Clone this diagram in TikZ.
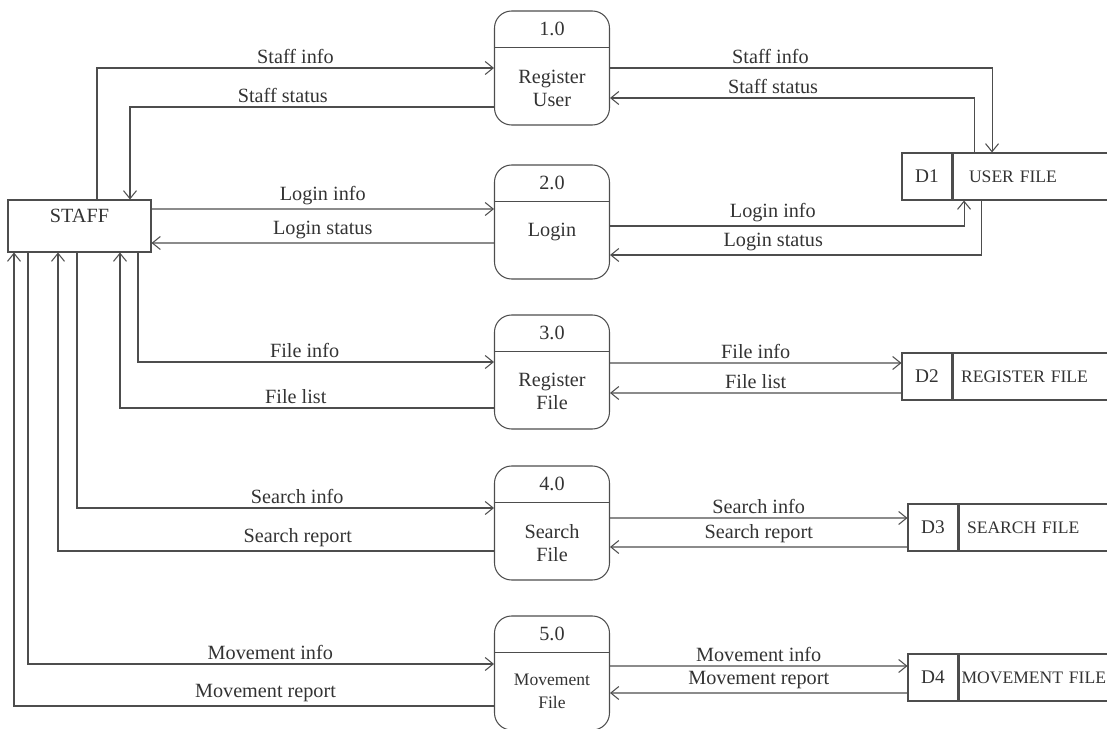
\documentclass[tikz,border=0pt]{standalone}
\usepackage{fontspec}
\setmainfont{Liberation Serif}
\usepackage{tikz}
\usetikzlibrary{arrows.meta,positioning}
\definecolor{dfdline}{HTML}{4D4D4D}
\definecolor{dfdtext}{HTML}{333333}
\tikzset{
  entity/.style={
    draw=dfdline,
    line width=0.6pt,
    minimum width=2.86cm,
    minimum height=1.04cm,
    text height=0.27cm,
    text depth=0.4cm,
    font=\fontsize{11.5}{13}\selectfont,
    text=dfdtext
  },
  process/.style={
    draw=dfdline,
    line width=0.6pt,
    rounded corners=0.34cm,
    minimum width=2.3cm,
    minimum height=2.28cm
  },
  procnum/.style={
    inner sep=1pt,
    font=\fontsize{11.5}{13}\selectfont,
    text=dfdtext
  },
  proctext/.style={
    inner sep=1pt,
    align=center,
    font=\fontsize{11.5}{13}\selectfont,
    text=dfdtext
  },
  divider/.style={
    draw=dfdline,
    line width=0.6pt
  },
  storeid/.style={
    draw=dfdline,
    line width=0.6pt,
    inner sep=0pt,
    minimum width=1cm,
    minimum height=0.94cm,
    font=\fontsize{11}{13}\selectfont,
    text=dfdtext
  },
  storename/.style={
    draw=dfdline,
    line width=0.6pt,
    minimum height=0.94cm,
    text width=3.1cm,
    inner xsep=0.16cm,
    align=left,
    font=\fontsize{10}{12}\selectfont,
    text=dfdtext
  },
  flow/.style={
    -{Straight Barb[length=1.6mm,width=2.6mm]},
    draw=dfdline,
    line width=0.6pt
  },
  flowlabel/.style={
    above,
    inner sep=2pt,
    font=\fontsize{11.5}{13}\selectfont,
    text=dfdtext
  }
}

\begin{document}
\begin{tikzpicture}[x=0.02cm, y=-0.02cm]
\useasboundingbox (0,0) rectangle (1107,729);

% external entity
\node[entity] (staff) at (79.5,226) {STAFF};

% processes
\node[process] (p1) at (552,68) {};
\node[procnum] (p1num) at ([yshift=-0.37cm]p1.north) {1.0};
\draw[divider] ([yshift=-0.74cm]p1.north west) -- ([yshift=-0.74cm]p1.north east);
\node[proctext] (p1txt) at ([yshift=-0.4cm]p1.center) {Register\\User};

\node[process] (p2) at (552,222) {};
\node[procnum] (p2num) at ([yshift=-0.37cm]p2.north) {2.0};
\draw[divider] ([yshift=-0.74cm]p2.north west) -- ([yshift=-0.74cm]p2.north east);
\node[proctext] (p2txt) at ([yshift=-0.2cm]p2.center) {Login};

\node[process] (p3) at (552,372) {};
\node[procnum] (p3num) at ([yshift=-0.37cm]p3.north) {3.0};
\draw[divider] ([yshift=-0.74cm]p3.north west) -- ([yshift=-0.74cm]p3.north east);
\node[proctext] (p3txt) at ([yshift=-0.38cm]p3.center) {Register\\File};

\node[process] (p4) at (552,523) {};
\node[procnum] (p4num) at ([yshift=-0.37cm]p4.north) {4.0};
\draw[divider] ([yshift=-0.74cm]p4.north west) -- ([yshift=-0.74cm]p4.north east);
\node[proctext] (p4txt) at ([yshift=-0.4cm]p4.center) {Search\\File};

\node[process] (p5) at (552,673) {};
\node[procnum] (p5num) at ([yshift=-0.37cm]p5.north) {5.0};
\draw[divider] ([yshift=-0.74cm]p5.north west) -- ([yshift=-0.74cm]p5.north east);
\node[proctext, font=\fontsize{10}{13}\selectfont] (p5txt) at ([yshift=-0.36cm]p5.center) {Movement\\File};

% data stores
\node[storeid] (d1) at (927,176.5) {D1};
\node[storename, right=0pt of d1, inner xsep=0.32cm, text width=2.8cm] (d1n) {USER FILE};
\node[storeid] (d2) at (927,376.5) {D2};
\node[storename, right=0pt of d2] (d2n) {REGISTER FILE};
\node[storeid] (d3) at (933,527.5) {D3};
\node[storename, right=0pt of d3] (d3n) {SEARCH FILE};
\node[storeid] (d4) at (933,677.5) {D4};
\node[storename, right=0pt of d4, inner xsep=0.05cm, text width=3.3cm] (d4n) {MOVEMENT FILE};

% staff <-> processes
\draw[flow] ([xshift=0.35cm]staff.north) |- (p1.west) node[flowlabel, pos=0.75] {Staff info};
\draw[flow] ([yshift=-0.78cm]p1.west) -| ([xshift=1.01cm]staff.north) node[flowlabel, pos=0.29] {Staff status};
\draw[flow] ([yshift=0.34cm]staff.east) -- ([yshift=0.26cm]p2.west) node[flowlabel, midway] {Login info};
\draw[flow] ([yshift=-0.42cm]p2.west) -- ([yshift=-0.34cm]staff.east) node[flowlabel, midway] {Login status};
\draw[flow] ([xshift=1.17cm]staff.south) |- ([yshift=0.2cm]p3.west) node[flowlabel, pos=0.734] {File info};
\draw[flow] ([yshift=-0.72cm]p3.west) -| ([xshift=0.81cm]staff.south) node[flowlabel, pos=0.265] {File list};
\draw[flow] ([xshift=-0.05cm]staff.south) |- ([yshift=0.3cm]p4.west) node[flowlabel, pos=0.764] {Search info};
\draw[flow] ([yshift=-0.56cm]p4.west) -| ([xshift=-0.43cm]staff.south) node[flowlabel, pos=0.225] {Search report};
\draw[flow] ([xshift=-1.03cm]staff.south) |- ([yshift=0.18cm]p5.west) node[flowlabel, pos=0.76] {Movement info};
\draw[flow] ([yshift=-0.66cm]p5.west) -| ([xshift=-1.31cm]staff.south) node[flowlabel, pos=0.238] {Movement report};

% processes <-> data stores
\draw[flow] (p1.east) -| ([xshift=-0.94cm]d1n.north) node[flowlabel, pos=0.21] {Staff info};
\draw[flow] ([xshift=-1.3cm]d1n.north) |- ([yshift=-0.6cm]p1.east) node[flowlabel, pos=0.776] {Staff status};
\draw[flow] ([yshift=-0.08cm]p2.east) -| ([xshift=-1.5cm]d1n.south) node[flowlabel, pos=0.23] {Login info};
\draw[flow] ([xshift=-1.16cm]d1n.south) |- ([yshift=-0.66cm]p2.east) node[flowlabel, pos=0.78] {Login status};
\draw[flow] ([yshift=0.18cm]p3.east) -- ([yshift=0.27cm]d2.west) node[flowlabel, midway] {File info};
\draw[flow] ([yshift=-0.33cm]d2.west) -- ([yshift=-0.42cm]p3.east) node[flowlabel, midway] {File list};
\draw[flow] ([yshift=0.1cm]p4.east) -- ([yshift=0.19cm]d3.west) node[flowlabel, midway] {Search info};
\draw[flow] ([yshift=-0.39cm]d3.west) -- ([yshift=-0.48cm]p4.east) node[flowlabel, midway] {Search report};
\draw[flow] ([yshift=0.14cm]p5.east) -- ([yshift=0.23cm]d4.west) node[flowlabel, midway] {Movement info};
\draw[flow] ([yshift=-0.31cm]d4.west) -- ([yshift=-0.4cm]p5.east) node[flowlabel, midway] {Movement report};
\end{tikzpicture}
\end{document}
